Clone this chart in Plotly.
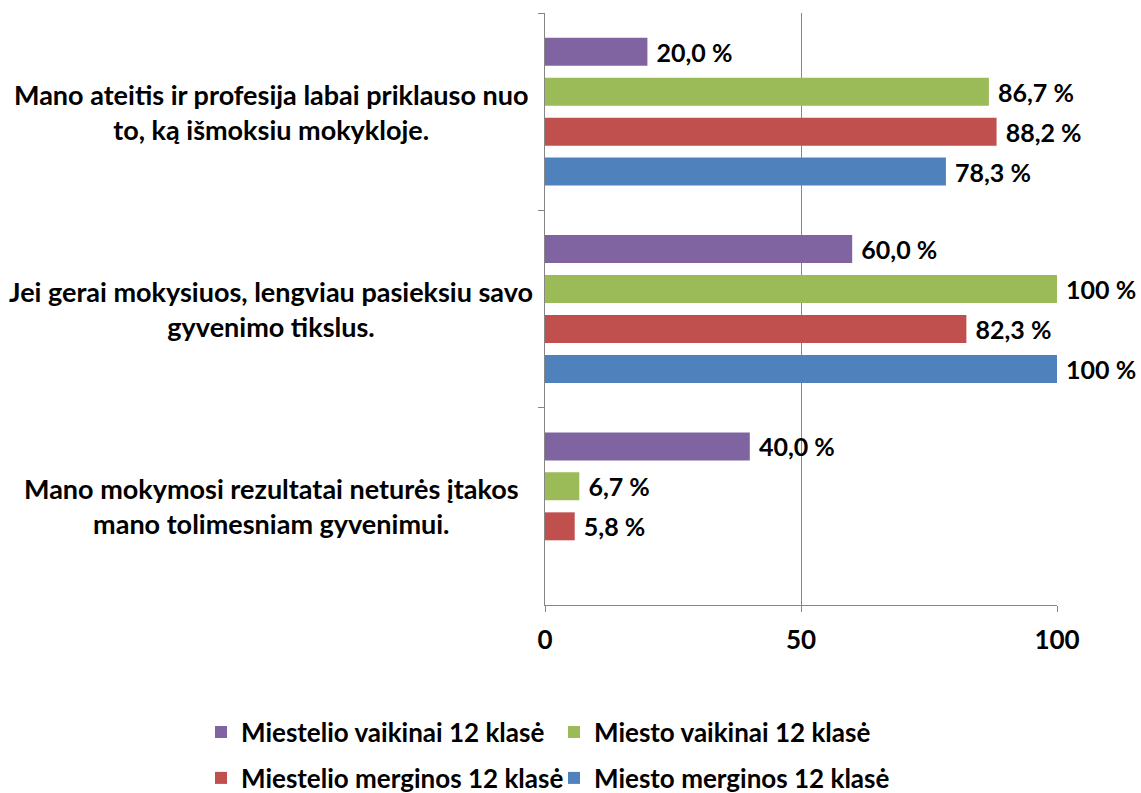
import plotly.graph_objects as go

categories = [
    "Mano ateitis ir profesija labai priklauso nuo<br>to, ką išmoksiu mokykloje.",
    "Jei gerai mokysiuos, lengviau pasieksiu savo<br>gyvenimo tikslus.",
    "Mano mokymosi rezultatai neturės įtakos<br>mano tolimesniam gyvenimui.",
]
series_names = [
    "Miestelio vaikinai 12 klasė",
    "Miesto vaikinai 12 klasė",
    "Miestelio merginos 12 klasė",
    "Miesto merginos 12 klasė",
]
miestelio_vaikinai = [20.0, 60.0, 40.0]
miesto_vaikinai = [86.7, 100.0, 6.7]
miestelio_merginos = [88.2, 82.3, 5.8]
miesto_merginos = [78.3, 100.0, None]
colors = ["#8064A2", "#9BBB59", "#C0504D", "#4F81BD"]
x_ticks = [0, 50, 100]

FONT = "Lato, 'Open Sans', sans-serif"
FS = 26
W, H = 1141, 793


def fmt(v):
    if v is None:
        return ""
    if v == 100:
        s = "100 %"
    else:
        s = f"{v:.1f}".replace(".", ",") + " %"
    return "\u00a0" + s


legend_ids = ["legend", "legend2", "legend3", "legend4"]
legend_pos = [(201 / W, 1 - 732 / H), (554 / W, 1 - 732 / H),
              (201 / W, 1 - 778 / H), (554 / W, 1 - 778 / H)]

fig = go.Figure()
all_series = [miestelio_vaikinai, miesto_vaikinai, miestelio_merginos, miesto_merginos]
for i, (name, vals, col) in enumerate(zip(series_names, all_series, colors)):
    fig.add_trace(go.Bar(
        y=categories,
        x=vals,
        name=name,
        orientation="h",
        marker=dict(color=col, line=dict(width=0)),
        text=[fmt(v) for v in vals],
        textposition="outside",
        textfont=dict(family=FONT, size=25, color="black", weight="bold"),
        cliponaxis=False,
        constraintext="none",
        legend=legend_ids[i],
    ))

for cat in categories:
    fig.add_annotation(
        x=-0.535, xref="paper", y=cat, yref="y",
        text=cat, showarrow=False, xanchor="center", yanchor="middle",
        align="center",
        font=dict(family=FONT, size=27, color="black", weight="bold"),
    )

legends = {}
for lid, (lx, ly) in zip(legend_ids, legend_pos):
    legends[lid] = dict(
        orientation="h",
        xref="container", yref="container",
        x=lx, y=ly,
        xanchor="left", yanchor="middle",
        font=dict(family=FONT, size=FS, color="black", weight="bold"),
        itemclick=False, itemdoubleclick=False,
        bgcolor="rgba(0,0,0,0)",
    )

fig.update_layout(
    width=W, height=H,
    margin=dict(l=545, r=84, t=13, b=188),
    barmode="group",
    bargap=0.19,
    bargroupgap=0.3,
    plot_bgcolor="white",
    paper_bgcolor="white",
    showlegend=True,
    xaxis=dict(
        range=[0, 100],
        tickvals=x_ticks,
        showgrid=True, gridcolor="#868686", gridwidth=1,
        zeroline=False,
        showline=True, linecolor="#868686", linewidth=1,
        ticks="outside", ticklen=6, tickcolor="#868686",
        tickfont=dict(family=FONT, size=FS, color="black", weight="bold"),
        ticklabelstandoff=6,
        fixedrange=True,
    ),
    yaxis=dict(
        autorange="reversed",
        showticklabels=False,
        showline=True, linecolor="#868686", linewidth=1,
        ticks="outside", ticklen=6, tickcolor="#868686",
        tickson="boundaries",
        showgrid=False,
        fixedrange=True,
    ),
    **legends,
)

fig.write_html(
    "out.html",
    config={"displayModeBar": False},
    post_script="document.body.style.margin='0';document.body.style.overflow='hidden';",
)
